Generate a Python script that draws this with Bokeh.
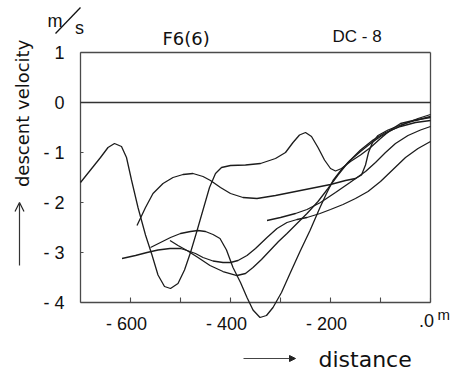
import math
from bokeh.plotting import figure
from bokeh.models import Range1d, Label, Arrow, OpenHead, NormalHead
from bokeh.core.properties import value
from bokeh.embed import file_html
from bokeh.resources import INLINE

# ---- data ----
X_TICKS = [-600, -500, -400, -300, -200, -100, 0]
X_LABEL_TICKS = [-600, -400, -200, 0]
X_LABELS = ["- 600", "- 400", "- 200", ".0"]
Y_TICKS = [1, 0, -1, -2, -3, -4]
Y_LABELS = ["1", "0", "- 1", "- 2", "- 3", "- 4"]

a_x = [-700, -680, -660, -645, -632, -618, -608, -598, -585, -570, -557, -545, -532, -520, -505,
       -492, -480, -468, -455, -442, -430, -418, -400, -370, -340, -310, -290, -275, -262, -250,
       -238, -225, -212, -200, -190, -178, -160, -140, -120, -100, -80, -60, -30, 0]
a_y = [-1.60, -1.35, -1.10, -0.90, -0.82, -0.88, -1.10, -1.55, -2.10, -2.65, -3.05, -3.45, -3.68, -3.72, -3.62,
       -3.35, -3.00, -2.60, -2.15, -1.70, -1.42, -1.30, -1.26, -1.25, -1.22, -1.12, -1.00, -0.80, -0.65, -0.60,
       -0.68, -0.90, -1.15, -1.32, -1.37, -1.32, -1.18, -1.05, -0.90, -0.72, -0.55, -0.42, -0.35, -0.30]

b_x = [-587, -570, -555, -535, -515, -495, -475, -455, -440, -420, -400, -375, -347, -310, -280,
       -240, -200, -170, -150, -138, -130, -124, -116, -105, -85, -60, -30, 0]
b_y = [-2.46, -2.10, -1.82, -1.62, -1.50, -1.44, -1.42, -1.48, -1.56, -1.70, -1.82, -1.90, -1.92, -1.86, -1.80,
       -1.72, -1.64, -1.56, -1.52, -1.45, -1.25, -1.00, -0.80, -0.66, -0.55, -0.45, -0.36, -0.28]

c_x = [-617, -590, -567, -545, -521, -500, -487, -470, -455, -435, -415, -400, -385, -367, -350,
       -327, -307, -287, -267, -247, -221, -200, -175, -150, -125, -100, -75, -50, -25, 0]
c_y = [-3.12, -3.06, -3.00, -2.95, -2.92, -2.92, -2.96, -3.02, -3.10, -3.17, -3.20, -3.20, -3.16, -3.06, -2.92,
       -2.70, -2.52, -2.40, -2.34, -2.30, -2.22, -2.14, -2.04, -1.92, -1.78, -1.58, -1.34, -1.10, -0.92, -0.78]

d_x = [-560, -540, -520, -500, -480, -465, -450, -435, -421, -408, -395, -380, -367, -355, -341,
       -328, -315, -298, -281, -261, -241, -221, -208, -195, -178, -161, -140, -120, -100, -75,
       -50, -25, 0]
d_y = [-2.90, -2.80, -2.70, -2.62, -2.58, -2.56, -2.58, -2.64, -2.72, -2.95, -3.30, -3.60, -3.90, -4.15, -4.30,
       -4.26, -4.10, -3.80, -3.42, -2.98, -2.56, -2.10, -1.82, -1.56, -1.34, -1.16, -0.98, -0.82, -0.68, -0.54,
       -0.42, -0.32, -0.24]

e_x = [-521, -505, -487, -465, -441, -415, -387, -370, -355, -338, -321, -304, -287, -267, -247,
       -225, -205, -185, -165, -140, -115, -90, -60, -30, 0]
e_y = [-2.76, -2.86, -2.96, -3.10, -3.26, -3.38, -3.46, -3.42, -3.30, -3.14, -2.96, -2.78, -2.62, -2.42, -2.22,
       -1.98, -1.72, -1.45, -1.20, -0.95, -0.75, -0.60, -0.48, -0.40, -0.36]

f_x = [-327, -300, -270, -247, -220, -190, -161, -130, -110, -90, -70, -45, -20, 0]
f_y = [-2.36, -2.30, -2.22, -2.14, -2.00, -1.80, -1.60, -1.38, -1.20, -1.00, -0.82, -0.66, -0.55, -0.48]

CURVES = [(a_x, a_y), (b_x, b_y), (c_x, c_y), (d_x, d_y), (e_x, e_y), (f_x, f_y)]

X_MIN, X_MAX = -700, 0
Y_MIN, Y_MAX = -4, 1

INK = "#1c1c1c"
FRAME = "#4a4a4a"
NUM_FONT = "Liberation Sans"
TXT_FONT = "DejaVu Sans"

# The frame fills the whole canvas; the visible axes box is drawn inside it.
p = figure(width=471, height=371, x_range=Range1d(-860, 82), y_range=Range1d(-5.38, 2.04),
           output_backend="svg", toolbar_location=None,
           min_border_left=0, min_border_right=0, min_border_top=0, min_border_bottom=0)
p.axis.visible = False
p.grid.visible = False
p.outline_line_color = None
p.background_fill_color = "white"
p.border_fill_color = "white"

# axes box
p.segment(x0=[X_MIN, X_MIN, X_MIN, X_MAX], y0=[Y_MIN, Y_MAX, Y_MIN, Y_MIN],
          x1=[X_MAX, X_MAX, X_MIN, X_MAX], y1=[Y_MIN, Y_MAX, Y_MAX, Y_MAX],
          line_color=FRAME, line_width=1.3)
# ticks (inside)
p.segment(x0=X_TICKS, y0=[Y_MIN] * len(X_TICKS), x1=X_TICKS, y1=[Y_MIN + 0.1] * len(X_TICKS),
          line_color=FRAME, line_width=1.1)
p.segment(x0=[X_MIN] * len(Y_TICKS), y0=Y_TICKS, x1=[X_MIN + 6] * len(Y_TICKS), y1=Y_TICKS,
          line_color=FRAME, line_width=1.1)
# tick labels
p.text(x=X_LABEL_TICKS, y=[Y_MIN - 0.23] * len(X_LABEL_TICKS), text=X_LABELS,
       text_font=value(NUM_FONT), text_font_size="18px", text_color="#111111",
       text_align="center", text_baseline="top", x_offset=-4)
p.text(x=[X_MIN - 32] * len(Y_TICKS), y=Y_TICKS, text=Y_LABELS,
       text_font=value(NUM_FONT), text_font_size="18px", text_color="#111111",
       text_align="right", text_baseline="middle")

# zero line
p.segment(x0=[X_MIN], y0=[0], x1=[X_MAX], y1=[0], line_color="#333333", line_width=1.3)

for cx, cy in CURVES:
    p.line(cx, cy, line_color=INK, line_width=1.3)


def lab(x, y, text, size, font=TXT_FONT, angle=0.0, align="left", baseline="alphabetic"):
    p.add_layout(Label(x=x, y=y, text=text, text_font=font, text_font_size=size,
                       text_color="#111111", angle=angle, text_align=align, text_baseline=baseline))


lab(-536, 1.28, "F6(6)", "18px")
lab(-196, 1.32, "DC - 8", "17px", font=NUM_FONT)
lab(-766, 1.64, "m", "18px", font=NUM_FONT)
lab(-711, 1.50, "s", "18px", font=NUM_FONT)
p.add_layout(Arrow(end=None, x_start=-750, y_start=1.38, x_end=-700, y_end=1.90,
                   line_color="#111111", line_width=1.3))
lab(14, -4.24, "m", "15px", font=NUM_FONT)
lab(-816, -0.16, "descent  velocity", "18px", angle=math.pi / 2, align="center", baseline="middle")
p.add_layout(Arrow(end=OpenHead(size=9, line_color="#222222", line_width=1.2),
                   x_start=-822, y_start=-3.26, x_end=-822, y_end=-2.0,
                   line_color="#333333", line_width=1.2))
lab(-224, -5.14, "distance", "22px")
p.add_layout(Arrow(end=NormalHead(size=6, fill_color="#222222", line_color="#222222"),
                   x_start=-374, y_start=-5.12, x_end=-270, y_end=-5.12,
                   line_color="#444444", line_width=1.0))

open("out.html", "w").write(file_html(p, INLINE))
